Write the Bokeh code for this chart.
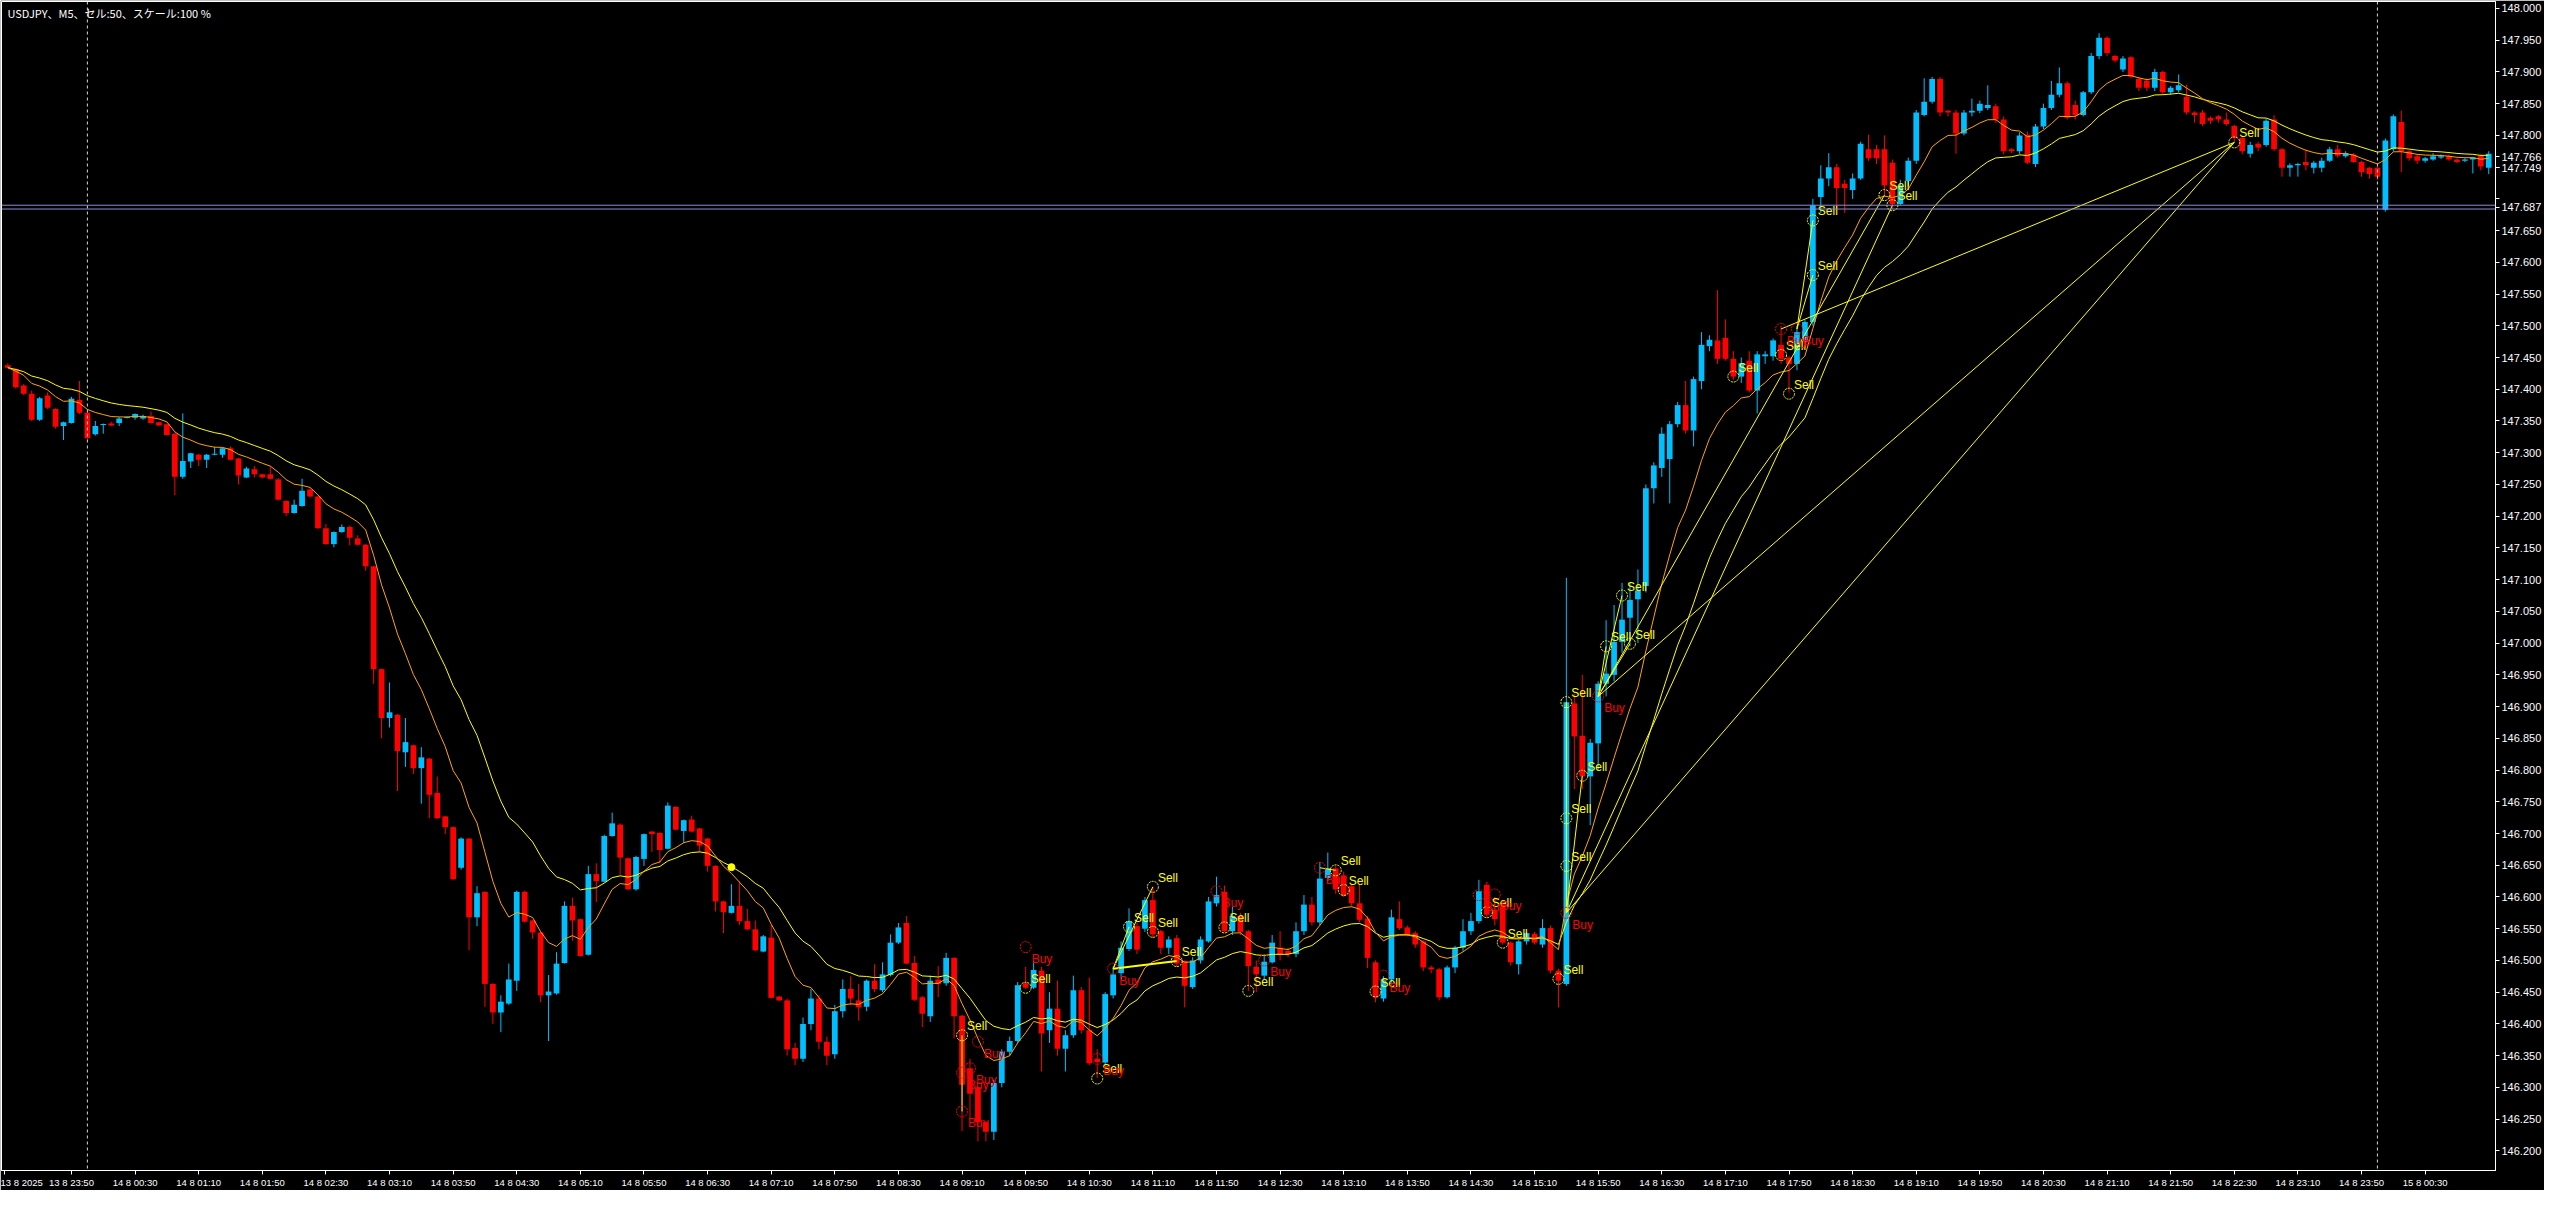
import numpy as np
import pandas as pd
from bokeh.plotting import figure
from bokeh.models import Range1d, FixedTicker, PrintfTickFormatter, Span, Label, ColumnDataSource
from bokeh.embed import file_html
from bokeh.resources import INLINE
from bokeh.core.properties import value

# ---------------- data (USDJPY M5, one value per bar) ----------------
opens = [
147.438,147.432,147.406,147.393,147.352,147.390,147.369,147.342,147.347,147.383,
147.363,147.329,147.344,147.346,147.347,147.355,147.355,147.354,147.358,147.348,
147.345,147.330,147.262,147.286,147.297,147.289,147.297,147.297,147.307,147.291,
147.261,147.274,147.266,147.266,147.258,147.224,147.205,147.216,147.242,147.231,
147.181,147.156,147.175,147.183,147.165,147.155,147.121,146.959,146.882,146.887,
146.828,146.839,146.803,146.818,146.764,146.727,146.710,146.646,146.692,146.568,
146.608,146.463,146.418,146.432,146.468,146.608,146.563,146.544,146.445,146.448,
146.496,146.586,146.565,146.509,146.636,146.624,146.696,146.714,146.661,146.612,
146.660,146.703,146.701,146.676,146.742,146.704,146.722,146.708,146.692,146.649,
146.593,146.575,146.586,146.562,146.549,146.514,146.536,146.443,146.437,146.362,
146.345,146.400,146.440,146.372,146.352,146.420,146.455,146.437,146.427,146.468,
146.453,146.477,146.528,146.559,146.496,146.442,146.412,146.470,146.464,146.504,
146.413,146.330,146.300,146.245,146.230,146.307,146.356,146.373,146.464,146.457,
146.484,146.390,146.424,146.361,146.382,146.453,146.390,146.345,146.339,146.445,
146.480,146.518,146.554,146.550,146.595,146.546,146.520,146.535,146.499,146.458,
146.500,146.530,146.590,146.608,146.546,146.570,146.546,146.490,146.476,146.497,
146.520,146.515,146.510,146.546,146.588,146.560,146.630,146.645,146.634,146.617,
146.590,146.566,146.497,146.440,146.470,146.565,146.552,146.543,146.530,146.489,
146.486,146.442,146.489,146.520,146.546,146.562,146.619,146.580,146.585,146.528,
146.494,146.530,146.542,146.525,146.551,146.484,146.463,146.905,146.854,146.790,
146.842,146.936,146.950,147.002,147.040,147.069,147.090,147.244,147.276,147.290,
147.345,147.375,147.335,147.413,147.468,147.477,147.481,147.448,147.420,147.445,
147.398,147.452,147.452,147.470,147.450,147.440,147.475,147.506,147.703,147.732,
147.750,147.724,147.714,147.732,147.778,147.778,147.778,147.757,147.692,147.728,
147.760,147.832,147.853,147.889,147.839,147.836,147.803,147.836,147.839,147.843,
147.846,147.825,147.778,147.775,147.801,147.755,147.814,147.843,147.864,147.882,
147.848,147.832,147.868,147.925,147.954,147.925,147.904,147.923,147.889,147.886,
147.875,147.900,147.868,147.871,147.861,147.836,147.836,147.828,147.830,147.825,
147.815,147.796,147.771,147.787,147.785,147.825,147.778,147.749,147.753,147.758,
147.749,147.749,147.760,147.778,147.767,147.770,147.758,147.749,147.749,147.683,
147.778,147.821,147.775,147.767,147.760,147.762,147.765,147.767,147.762,147.760,
147.762,147.768,147.749]

highs = [
147.441,147.433,147.408,147.398,147.388,147.395,147.370,147.349,147.388,147.413,
147.364,147.350,147.346,147.349,147.356,147.357,147.362,147.360,147.365,147.349,
147.346,147.331,147.362,147.300,147.298,147.298,147.309,147.308,147.310,147.292,
147.278,147.279,147.267,147.279,147.260,147.225,147.226,147.259,147.244,147.232,
147.188,147.176,147.187,147.185,147.170,147.156,147.122,146.960,146.938,146.888,
146.882,146.840,146.836,146.819,146.790,146.728,146.711,146.694,146.693,146.617,
146.609,146.464,146.445,146.495,146.610,146.610,146.564,146.545,146.477,146.513,
146.593,146.599,146.566,146.649,146.653,146.698,146.733,146.716,146.662,146.665,
146.700,146.704,146.702,146.749,146.743,146.722,146.728,146.709,146.693,146.650,
146.594,146.620,146.624,146.581,146.563,146.540,146.556,146.444,146.440,146.370,
146.410,146.455,146.445,146.380,146.430,146.470,146.475,146.463,146.470,146.494,
146.497,146.541,146.559,146.570,146.507,146.444,146.476,146.491,146.512,146.505,
146.414,146.345,146.302,146.247,146.312,146.360,146.380,146.466,146.490,146.499,
146.490,146.450,146.468,146.390,146.476,146.458,146.473,146.360,146.450,146.490,
146.530,146.582,146.560,146.600,146.616,146.548,146.538,146.540,146.500,146.505,
146.538,146.600,146.632,146.618,146.585,146.575,146.548,146.500,146.510,146.540,
146.546,146.520,146.560,146.603,146.600,146.655,146.670,146.650,146.640,146.620,
146.620,146.570,146.500,146.475,146.580,146.593,146.555,146.546,146.532,146.492,
146.488,146.492,146.523,146.565,146.575,146.627,146.624,146.600,146.590,146.530,
146.532,146.545,146.545,146.565,146.555,146.487,147.103,146.920,146.950,146.849,
146.940,147.036,147.060,147.095,147.095,147.116,147.250,147.285,147.340,147.350,
147.380,147.413,147.420,147.490,147.485,147.556,147.510,147.460,147.450,147.460,
147.460,147.460,147.480,147.500,147.452,147.500,147.510,147.700,147.753,147.772,
147.755,147.730,147.740,147.790,147.801,147.785,147.800,147.762,147.730,147.765,
147.840,147.890,147.892,147.892,147.840,147.840,147.840,147.858,147.855,147.879,
147.850,147.830,147.780,147.805,147.806,147.818,147.850,147.886,147.907,147.885,
147.855,147.870,147.930,147.961,147.956,147.927,147.925,147.925,147.892,147.890,
147.905,147.902,147.878,147.896,147.880,147.838,147.840,147.830,147.832,147.836,
147.817,147.800,147.790,147.790,147.826,147.832,147.780,147.756,147.757,147.778,
147.760,147.765,147.782,147.785,147.775,147.772,147.760,147.750,147.751,147.795,
147.833,147.839,147.777,147.770,147.766,147.772,147.770,147.770,147.764,147.764,
147.766,147.770,147.775]

lows = [
147.433,147.401,147.391,147.350,147.350,147.369,147.338,147.320,147.346,147.361,
147.321,147.327,147.330,147.342,147.342,147.354,147.352,147.352,147.346,147.342,
147.327,147.233,147.259,147.276,147.279,147.276,147.296,147.292,147.288,147.250,
147.260,147.261,147.260,147.258,147.225,147.200,147.204,147.215,147.230,147.180,
147.155,147.151,147.174,147.154,147.154,147.114,146.936,146.850,146.867,146.767,
146.805,146.794,146.747,146.724,146.723,146.699,146.627,146.643,146.516,146.554,
146.427,146.400,146.387,146.430,146.452,146.560,146.534,146.434,146.373,146.446,
146.495,146.531,146.506,146.508,146.592,146.623,146.695,146.635,146.611,146.610,
146.649,146.671,146.654,146.675,146.705,146.685,146.702,146.671,146.640,146.577,
146.543,146.574,146.556,146.548,146.515,146.513,146.440,146.436,146.350,146.335,
146.340,146.390,146.360,146.335,146.345,146.410,146.430,146.405,146.420,146.450,
146.450,146.475,146.526,146.494,146.436,146.395,146.403,146.442,146.460,146.377,
146.231,146.250,146.215,146.215,146.217,146.300,146.350,146.370,146.455,146.455,
146.325,146.370,146.350,146.325,146.378,146.385,146.335,146.315,146.335,146.440,
146.470,146.515,146.510,146.545,146.535,146.510,146.510,146.490,146.426,146.455,
146.495,146.528,146.585,146.545,146.540,146.540,146.452,146.450,146.470,146.495,
146.500,146.505,146.505,146.540,146.555,146.555,146.625,146.605,146.600,146.585,
146.560,146.488,146.434,146.435,146.465,146.548,146.538,146.520,146.483,146.480,
146.437,146.440,146.480,146.515,146.540,146.558,146.568,146.555,146.525,146.492,
146.478,146.525,146.525,146.520,146.480,146.426,146.460,146.770,146.770,146.713,
146.800,146.916,146.940,146.985,146.995,147.000,147.080,147.220,147.262,147.220,
147.340,147.330,147.310,147.400,147.460,147.440,147.445,147.415,147.410,147.395,
147.362,147.440,147.445,147.440,147.395,147.430,147.470,147.500,147.678,147.720,
147.685,147.678,147.700,147.730,147.760,147.755,147.705,147.684,147.690,147.720,
147.755,147.830,147.850,147.830,147.830,147.771,147.800,147.830,147.835,147.840,
147.820,147.770,147.772,147.771,147.755,147.750,147.810,147.840,147.860,147.825,
147.825,147.830,147.865,147.920,147.925,147.915,147.900,147.890,147.870,147.870,
147.870,147.865,147.864,147.868,147.833,147.820,147.815,147.818,147.820,147.815,
147.790,147.770,147.765,147.775,147.782,147.775,147.735,147.735,147.735,147.745,
147.740,147.742,147.758,147.765,147.765,147.757,147.735,147.732,147.730,147.680,
147.775,147.742,147.760,147.755,147.757,147.760,147.763,147.760,147.756,147.758,
147.740,147.745,147.739]

closes = [
147.434,147.403,147.393,147.352,147.386,147.371,147.341,147.348,147.385,147.363,
147.323,147.342,147.345,147.343,147.354,147.356,147.361,147.358,147.347,147.343,
147.328,147.262,147.287,147.299,147.289,147.297,147.298,147.307,147.289,147.264,
147.275,147.266,147.261,147.259,147.226,147.205,147.218,147.240,147.231,147.181,
147.156,147.175,147.183,147.166,147.155,147.121,146.959,146.882,146.891,146.830,
146.844,146.803,146.820,146.761,146.724,146.710,146.628,146.692,146.568,146.606,
146.463,146.418,146.435,146.470,146.608,146.561,146.544,146.445,146.451,146.495,
146.586,146.563,146.507,146.636,146.625,146.696,146.716,146.662,146.612,146.663,
146.699,146.699,146.674,146.744,146.706,146.721,146.703,146.681,146.649,146.593,
146.576,146.586,146.562,146.549,146.516,146.538,146.441,146.437,146.360,146.345,
146.400,146.440,146.372,146.350,146.420,146.455,146.440,146.426,146.468,146.455,
146.478,146.528,146.552,146.495,146.438,146.416,146.468,146.463,146.504,146.412,
146.304,146.290,146.245,146.230,146.307,146.356,146.373,146.461,146.457,146.485,
146.385,146.424,146.361,146.382,146.453,146.390,146.338,146.340,146.447,146.478,
146.520,146.562,146.517,146.595,146.541,146.520,146.533,146.495,146.460,146.500,
146.533,146.593,146.603,146.546,146.570,146.545,146.491,146.478,146.498,146.528,
146.510,146.510,146.546,146.588,146.560,146.629,146.645,146.612,146.603,146.590,
146.564,146.504,146.442,146.470,146.568,146.551,146.541,146.525,146.489,146.486,
146.442,146.489,146.520,146.546,146.562,146.609,146.572,146.565,146.528,146.497,
146.530,146.543,146.528,146.551,146.484,146.468,146.907,146.853,146.790,146.843,
146.936,146.952,147.002,147.037,147.068,147.083,147.244,147.280,147.330,147.345,
147.375,147.335,147.416,147.470,147.478,147.448,147.448,147.420,147.441,147.398,
147.455,147.455,147.477,147.448,147.440,147.490,147.506,147.690,147.732,147.750,
147.717,147.717,147.732,147.787,147.764,147.764,147.721,147.692,147.721,147.760,
147.836,147.853,147.889,147.836,147.836,147.803,147.836,147.839,147.850,147.848,
147.825,147.775,147.775,147.800,147.757,147.814,147.843,147.864,147.882,147.828,
147.832,147.868,147.925,147.954,147.930,147.918,147.921,147.893,147.875,147.875,
147.900,147.868,147.875,147.879,147.836,147.832,147.818,147.823,147.825,147.818,
147.796,147.775,147.785,147.781,147.823,147.778,147.749,147.753,147.755,147.753,
147.757,147.760,147.778,147.768,147.772,147.758,147.742,147.739,147.735,147.792,
147.830,147.775,147.764,147.760,147.764,147.767,147.767,147.762,147.758,147.762,
147.765,147.751,147.771]

# time-axis labels (one every 8 bars)
tick_labels = [
"13 8 2025", "13 8 23:50", "14 8 00:30", "14 8 01:10", "14 8 01:50", "14 8 02:30",
"14 8 03:10", "14 8 03:50", "14 8 04:30", "14 8 05:10", "14 8 05:50", "14 8 06:30",
"14 8 07:10", "14 8 07:50", "14 8 08:30", "14 8 09:10", "14 8 09:50", "14 8 10:30",
"14 8 11:10", "14 8 11:50", "14 8 12:30", "14 8 13:10", "14 8 13:50", "14 8 14:30",
"14 8 15:10", "14 8 15:50", "14 8 16:30", "14 8 17:10", "14 8 17:50", "14 8 18:30",
"14 8 19:10", "14 8 19:50", "14 8 20:30", "14 8 21:10", "14 8 21:50", "14 8 22:30",
"14 8 23:10", "14 8 23:50", "15 8 00:30"]
tick_bars = [-0.4] + [8 * k for k in range(1, 39)]
day_separators = [10, 298]

# price-scale ticks; the last three are the indicator / level read-outs
price_ticks = [round(146.2 + 0.05 * k, 3) for k in range(37)]
readout_ticks = [147.766, 147.749, 147.687]
hidden_ticks = [147.75, 147.7]

# signal markers (bar index, price)
sell_bar = [120, 128, 137, 141, 144, 144, 147, 153, 156, 167, 168, 172, 186, 188, 195,
            196, 196, 196, 198, 201, 203, 204, 217, 223, 224, 227, 227, 236, 237, 280]
sell_price = [146.382, 146.457, 146.314, 146.553, 146.616, 146.545, 146.499, 146.552,
              146.452, 146.642, 146.611, 146.451, 146.576, 146.528, 146.471, 146.649,
              146.724, 146.907, 146.791, 146.995, 147.075, 146.999, 147.420, 147.454,
              147.393, 147.666, 147.580, 147.706, 147.690, 147.789]
buy_bar = [120, 120, 121, 122, 128, 137, 139, 152, 158, 165, 173, 185, 187, 196, 200, 223, 225]
buy_price = [146.323, 146.262, 146.330, 146.372, 146.521, 146.345, 146.487, 146.609,
             146.500, 146.646, 146.476, 146.603, 146.604, 146.575, 146.916, 147.495, 147.495]

# connecting lines between signals
link_bar0 = [120, 139, 139, 165, 196, 196, 196, 196, 200, 200, 200, 200, 200, 225, 225, 223]
link_p0 = [146.382, 146.487, 146.487, 146.646, 146.575, 146.575, 146.575, 146.575,
           146.916, 146.916, 146.916, 146.916, 146.916, 147.495, 147.495, 147.495]
link_bar1 = [120, 141, 144, 167, 196, 198, 280, 237, 280, 201, 203, 204, 236, 227, 227, 280]
link_p1 = [146.262, 146.553, 146.616, 146.642, 146.907, 146.791, 147.789, 147.690,
           147.789, 146.995, 147.075, 146.999, 147.706, 147.666, 147.580, 147.789]
thick_bar0 = [139]
thick_p0 = [146.487]
thick_bar1 = [147]
thick_p1 = [146.499]

marker_bar = [91]
marker_price = [146.647]

level_lines = [147.690, 147.684]

title_text = "USDJPY、M5、セル:50、スケール:100 %"

# ---------------- derived ----------------
n = len(closes)
idx = np.arange(n)
o = np.array(opens); h = np.array(highs); l = np.array(lows); c = np.array(closes)
bull = c >= o
top = np.maximum(o, c)
bot = np.minimum(o, c)
mid = (top + bot) / 2
body = np.maximum(top - bot, 0.0017)
hi = np.maximum(h, top)
lo = np.minimum(l, bot)
col = np.where(bull, "#00bfff", "#ff0000")

ema_fast = pd.Series(closes).ewm(span=10, adjust=False).mean().values
ema_slow = pd.Series(closes).ewm(span=21, adjust=False).mean().values

src = ColumnDataSource(dict(x=idx, mid=mid, body=body, hi=hi, lo=lo, col=col))

X_END = 312.85
p = figure(width=2544, height=1190, output_backend="svg", toolbar_location=None,
           x_range=Range1d(-0.8, X_END), y_range=Range1d(146.169, 148.011),
           y_axis_location="right", background_fill_color="black",
           border_fill_color="black", outline_line_color="white",
           min_border_left=1, min_border_top=1, min_border_right=0, min_border_bottom=0)
p.grid.visible = False

# axes
p.yaxis.ticker = FixedTicker(ticks=price_ticks + readout_ticks)
p.yaxis.formatter = PrintfTickFormatter(format="%.3f")
p.yaxis.major_label_overrides = {t: "" for t in hidden_ticks}
p.xaxis.ticker = FixedTicker(ticks=tick_bars)
p.xaxis.major_label_overrides = {t: s for t, s in zip(tick_bars, tick_labels)}
for ax in (p.xaxis[0], p.yaxis[0]):
    ax.axis_line_color = "white"
    ax.major_tick_line_color = "white"
    ax.minor_tick_line_color = None
    ax.major_tick_in = 0
    ax.major_tick_out = 4
    ax.major_label_text_color = "white"
    ax.major_label_text_font = "Liberation Sans"
    ax.major_label_standoff = 2
p.yaxis.major_label_text_font_size = "11px"
p.xaxis.major_label_text_font_size = "9.5px"
p.xaxis.major_label_text_align = "left"

# period separators
for s in day_separators:
    p.add_layout(Span(location=s, dimension="height", line_color="#d8d8d8",
                      line_dash="3 3", line_width=1))

# level lines
for lv in level_lines:
    p.add_layout(Span(location=lv, dimension="width", line_color="#8c8cd8", line_width=1))

# candles
p.segment(x0="x", y0="lo", x1="x", y1="hi", color="col", line_width=1, source=src)
p.rect(x="x", y="mid", width=0.72, height="body", fill_color="col", line_color=None, source=src)

# moving averages
p.line(idx, ema_slow, line_color="#ffff00", line_width=1)
p.line(idx, ema_fast, line_color="#ffa500", line_width=1)

# signal links
p.segment(x0=link_bar0, y0=link_p0, x1=link_bar1, y1=link_p1, line_color="#ffff00", line_width=1)
p.segment(x0=thick_bar0, y0=thick_p0, x1=thick_bar1, y1=thick_p1, line_color="#ffff00", line_width=2)

# signals
p.scatter(sell_bar, sell_price, marker="circle", size=11, fill_color=None,
          line_color="#ffff00", line_width=1, line_dash="2 1")
p.scatter(buy_bar, buy_price, marker="circle", size=11, fill_color=None,
          line_color="#ff0000", line_width=1, line_dash="2 1")
p.text(sell_bar, sell_price, text=["Sell"] * len(sell_bar), text_color="#ffff00",
       text_font=value("Liberation Sans"), text_font_size="12px", text_baseline="middle",
       x_offset=5, y_offset=-9)
p.text(buy_bar, buy_price, text=["Buy"] * len(buy_bar), text_color="#ff0000",
       text_font=value("Liberation Sans"), text_font_size="12px", text_baseline="middle",
       x_offset=6, y_offset=12)
p.scatter(marker_bar, marker_price, marker="circle", size=7, fill_color="#ffff00",
          line_color="#ffff00")

# title
p.add_layout(Label(x=-0.8, y=148.011, text=title_text, text_color="white",
                   text_font_size="11px", text_font="Noto Sans CJK JP", text_baseline="top",
                   x_offset=6, y_offset=-3))

open("out.html", "w").write(file_html(p, INLINE))
